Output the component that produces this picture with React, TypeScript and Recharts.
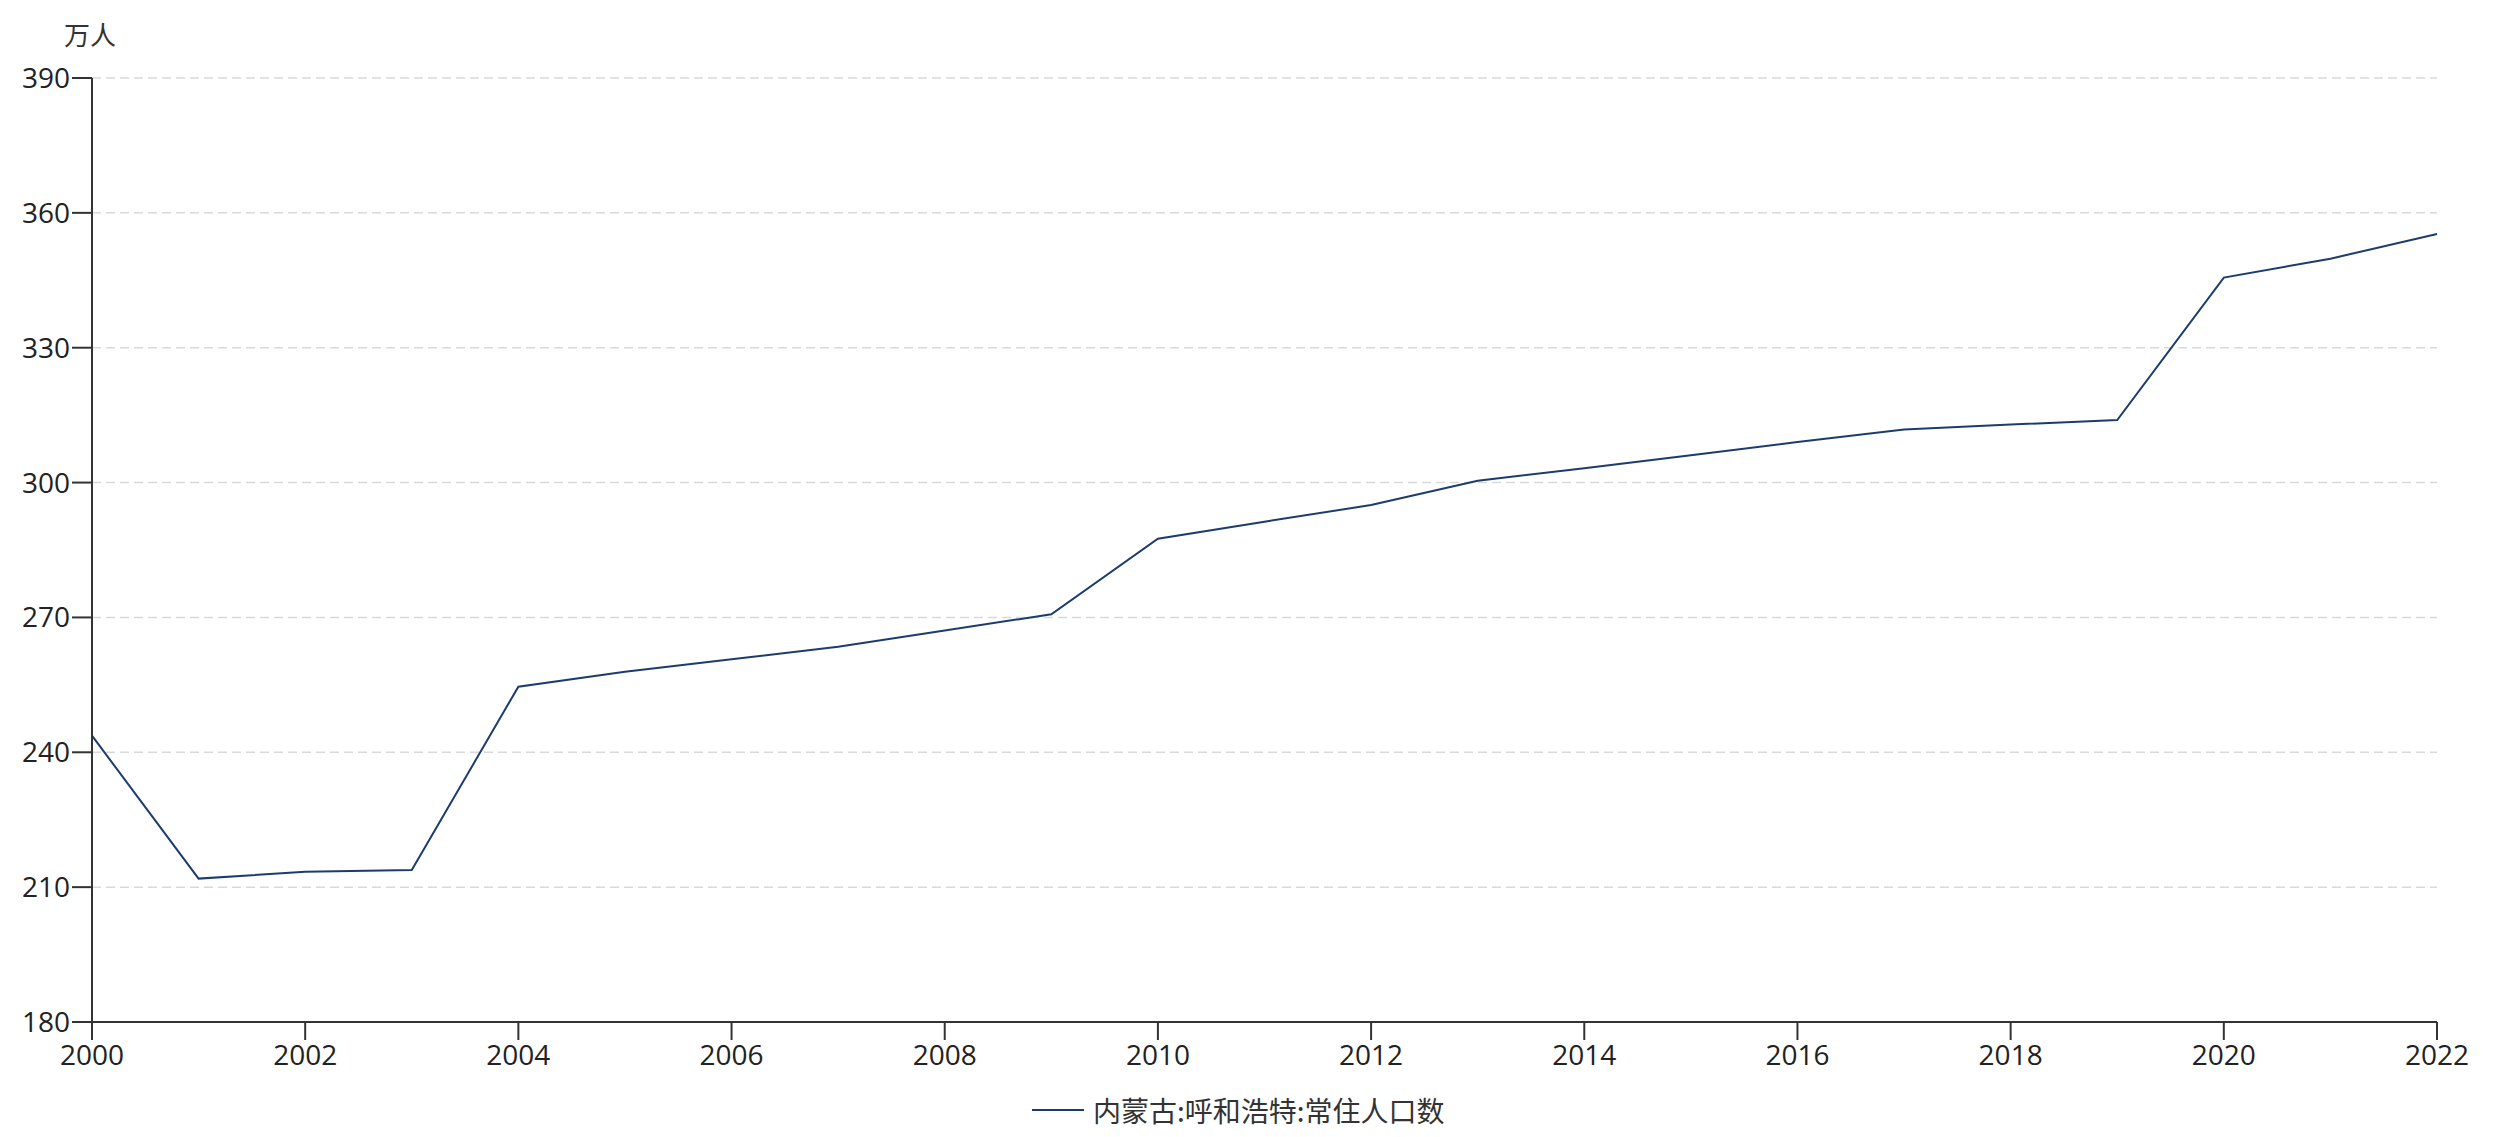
import React from 'react';
import { LineChart, Line, XAxis, YAxis, CartesianGrid, Legend } from 'recharts';

const years = [2000, 2001, 2002, 2003, 2004, 2005, 2006, 2007, 2008, 2009, 2010, 2011, 2012, 2013, 2014, 2015, 2016, 2017, 2018, 2019, 2020, 2021, 2022];
const population = [243.7, 211.9, 213.4, 213.8, 254.6, 257.9, 260.7, 263.5, 267.1, 270.7, 287.5, 291.3, 295.0, 300.4, 303.2, 306.1, 309.0, 311.8, 312.9, 313.9, 345.6, 349.8, 355.3];
const xTicks = [2000, 2002, 2004, 2006, 2008, 2010, 2012, 2014, 2016, 2018, 2020, 2022];
const yTicks = [180, 210, 240, 270, 300, 330, 360, 390];
const seriesName = '内蒙古:呼和浩特:常住人口数';
const unitLabel = '万人';

const data = years.map((y, i) => ({ year: y, value: population[i] }));

const FONT = '"Noto Sans CJK SC", "Open Sans", sans-serif';
const NUM_FONT = '"Open Sans", "Noto Sans CJK SC", sans-serif';
const LINE_COLOR = '#1c3c6e';
const AXIS_COLOR = '#333333';

const UnitLabel = (props: any) => {
  const vb = props.viewBox || {};
  return (
    <text
      x={vb.x + vb.width - 2}
      y={vb.y - 33}
      textAnchor="middle"
      fill="#333"
      fontSize={26}
      fontFamily={FONT}
    >
      {unitLabel}
    </text>
  );
};

const LegendContent = () => (
  <div style={{ position: 'relative', height: 60, width: '100%' }}>
    <div
      style={{
        position: 'absolute',
        left: 1024,
        top: 30,
        height: 32,
        display: 'flex',
        alignItems: 'center',
        fontFamily: FONT,
        fontSize: 28,
        color: '#333',
        whiteSpace: 'nowrap',
      }}
    >
      <svg width={52} height={10} style={{ marginRight: 9 }}>
        <line x1={0} y1={5} x2={52} y2={5} stroke={LINE_COLOR} strokeWidth={2} />
      </svg>
      <span>{seriesName}</span>
    </div>
  </div>
);

export default function App() {
  return (
    <div style={{ width: 2480, height: 1120 }}>
      <LineChart
        width={2480}
        height={1120}
        data={data}
        margin={{ top: 70, right: 51, left: 0, bottom: 4 }}
      >
        <CartesianGrid
          horizontal={true}
          vertical={false}
          stroke="#d9d9d9"
          strokeDasharray="9 5"
          strokeWidth={1.5}
        />
        <XAxis
          dataKey="year"
          type="number"
          domain={[2000, 2022]}
          ticks={xTicks}
          interval={0}
          allowDecimals={false}
          height={42}
          tickSize={18}
          tickMargin={5}
          stroke={AXIS_COLOR}
          strokeWidth={2}
          tick={{ fill: '#222', fontSize: 28, fontFamily: NUM_FONT }}
        />
        <YAxis
          type="number"
          domain={[180, 390]}
          ticks={yTicks}
          interval={0}
          width={84}
          tickSize={20}
          tickMargin={2}
          stroke={AXIS_COLOR}
          strokeWidth={2}
          tick={{ fill: '#222', fontSize: 28, fontFamily: NUM_FONT }}
          label={<UnitLabel />}
        />
        <Legend verticalAlign="bottom" height={60} content={<LegendContent />} />
        <Line
          type="linear"
          dataKey="value"
          name={seriesName}
          stroke={LINE_COLOR}
          strokeWidth={2}
          dot={false}
          activeDot={false}
          isAnimationActive={false}
        />
      </LineChart>
    </div>
  );
}
